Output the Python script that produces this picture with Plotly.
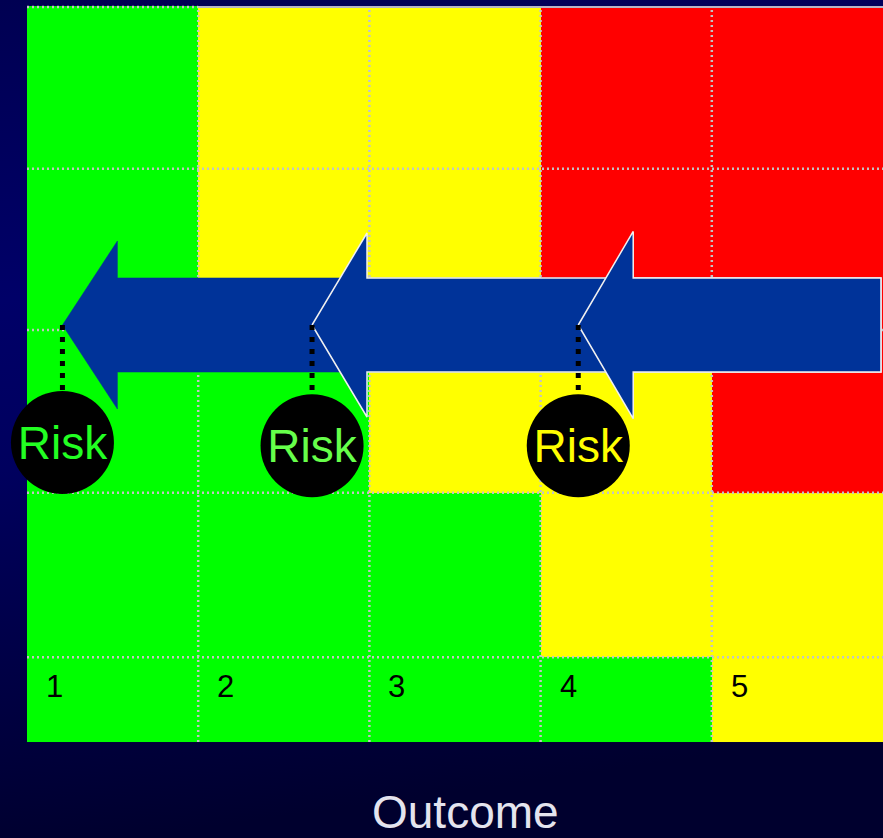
import base64
import plotly.graph_objects as go

# ---- data -------------------------------------------------------------
outcome_labels = ["1", "2", "3", "4", "5"]
outcome_centers = [1, 2, 3, 4, 5]
# likelihood band edges, bottom to top (bottom band is the short label strip)
likelihood_edges = [0, 0.52, 1.53, 2.53, 3.52, 4.52]
# 0 = low (green), 1 = medium (yellow), 2 = high (red); rows bottom -> top
risk_levels = [
    [0, 0, 0, 0, 1],
    [0, 0, 0, 1, 1],
    [0, 0, 1, 1, 2],
    [0, 1, 1, 2, 2],
    [0, 1, 1, 2, 2],
]
# risk after each mitigation step (outcome score, likelihood score)
risk_outcome = [0.707, 2.165, 3.72]
risk_likelihood = [1.84, 1.82, 1.82]
risk_text = ["Risk", "Risk", "Risk"]
arrow_level = 2.561          # likelihood at which the mitigation arrows run
arrow_tail = 5.488           # outcome value where the arrow shafts start

# ---- styling ----------------------------------------------------------
FONT = "Liberation Sans, Arial, Helvetica, sans-serif"
X_RANGE = [0.3423, 5.5]
Y_RANGE = [-0.5896, 4.557]
GREEN, YELLOW, RED = "#00ff00", "#ffff00", "#ff0000"
ARROW_FILL = "#003399"
risk_text_colors = ["#22ff22", "#66ff4a", "#ffff00"]
text_drop = 0.03             # nudge so the caps sit centred in the discs
head_len = 0.321
shaft_half = 0.289
head_half = [0.516, 0.565, 0.575]
arrow_outline = [0, 1.5, 1.5]

fig = go.Figure()

# risk matrix
fig.add_trace(go.Heatmap(
    x=outcome_centers, y=likelihood_edges, z=risk_levels,
    zmin=0, zmax=2,
    colorscale=[[0, GREEN], [1 / 3, GREEN], [1 / 3, YELLOW], [2 / 3, YELLOW],
                [2 / 3, RED], [1, RED]],
    showscale=False, hoverinfo="skip",
))

# dotted cell borders
gx, gy = [], []
for xv in [c + 0.5 for c in outcome_centers[:-1]]:
    gx += [xv, xv, None]
    gy += [likelihood_edges[0], likelihood_edges[-1], None]
for yv in likelihood_edges[1:-1]:
    gx += [outcome_centers[0] - 0.5, outcome_centers[-1] + 0.5, None]
    gy += [yv, yv, None]
top = likelihood_edges[-1] - 0.006
gx += [outcome_centers[0] - 0.5, outcome_centers[0] + 0.5, None]
gy += [top, top, None]
fig.add_trace(go.Scatter(x=gx, y=gy, mode="lines", hoverinfo="skip",
                         line=dict(color="#c4c4c4", width=2.5, dash="2px,3px")))
fig.add_trace(go.Scatter(x=[outcome_centers[0] + 0.5, outcome_centers[-1] + 0.5],
                         y=[top, top], mode="lines", hoverinfo="skip",
                         line=dict(color="#b4b4c6", width=2)))

# mitigation arrows, drawn left to right so each overlaps the previous one
for i, tip in enumerate(risk_outcome):
    back = tip + head_len
    xs = [tip, back, back, arrow_tail, arrow_tail, back, back, tip]
    ys = [arrow_level,
          arrow_level + head_half[i], arrow_level + shaft_half,
          arrow_level + shaft_half, arrow_level - shaft_half,
          arrow_level - shaft_half, arrow_level - head_half[i],
          arrow_level]
    fig.add_trace(go.Scatter(
        x=xs, y=ys, mode="lines", fill="toself", fillcolor=ARROW_FILL,
        line=dict(color="#f0f0f0" if arrow_outline[i] else ARROW_FILL,
                  width=arrow_outline[i] or 0.5),
        hoverinfo="skip"))

# dotted leaders from arrow tips to the risk markers
for xv, yv in zip(risk_outcome, risk_likelihood):
    fig.add_trace(go.Scatter(
        x=[xv, xv], y=[arrow_level, yv], mode="lines", hoverinfo="skip",
        line=dict(color="black", width=5, dash="5px,7px")))

# risk markers
fig.add_trace(go.Scatter(
    x=risk_outcome, y=risk_likelihood, mode="markers",
    marker=dict(size=103, color="black", line=dict(width=0)),
    hoverinfo="skip", cliponaxis=False))
fig.add_trace(go.Scatter(
    x=risk_outcome, y=[v - text_drop for v in risk_likelihood], mode="text",
    text=risk_text, textposition="middle center",
    textfont=dict(family=FONT, size=46, color=risk_text_colors),
    hoverinfo="skip", cliponaxis=False))

annotations = []
for c, lab in zip(outcome_centers, outcome_labels):
    annotations.append(dict(
        x=c - 0.5, y=0.338, xref="x", yref="y", text=lab, showarrow=False,
        xanchor="left", yanchor="middle", xshift=17,
        font=dict(family=FONT, size=31, color="black")))
annotations.append(dict(
    x=3.06, y=-0.43, xref="x", yref="y", text="Outcome", showarrow=False,
    xanchor="center", yanchor="middle",
    font=dict(family=FONT, size=46, color="#e4e4ee")))

# navy slide background
svg = (
    "<svg xmlns='http://www.w3.org/2000/svg' width='883' height='838' "
    "preserveAspectRatio='none'><defs>"
    "<linearGradient id='g' x1='0' y1='0' x2='0.15' y2='1'>"
    "<stop offset='0' stop-color='#000052'/>"
    "<stop offset='0.35' stop-color='#000068'/>"
    "<stop offset='0.55' stop-color='#00005e'/>"
    "<stop offset='0.85' stop-color='#00003e'/>"
    "<stop offset='1' stop-color='#00002e'/>"
    "</linearGradient></defs>"
    "<rect width='883' height='838' fill='url(#g)'/></svg>"
)
bg_src = "data:image/svg+xml;base64," + base64.b64encode(svg.encode()).decode()

fig.update_layout(
    width=883, height=838, autosize=False,
    margin=dict(l=0, r=0, t=0, b=0, pad=0),
    paper_bgcolor="#000045", plot_bgcolor="rgba(0,0,0,0)",
    showlegend=False, hovermode=False,
    xaxis=dict(range=X_RANGE, visible=False, fixedrange=True),
    yaxis=dict(range=Y_RANGE, visible=False, fixedrange=True),
    annotations=annotations,
    images=[dict(source=bg_src, xref="paper", yref="paper", x=0, y=1,
                 sizex=1, sizey=1, xanchor="left", yanchor="top",
                 sizing="stretch", layer="below")],
)

fig.write_html("out.html", config={"displayModeBar": False})
